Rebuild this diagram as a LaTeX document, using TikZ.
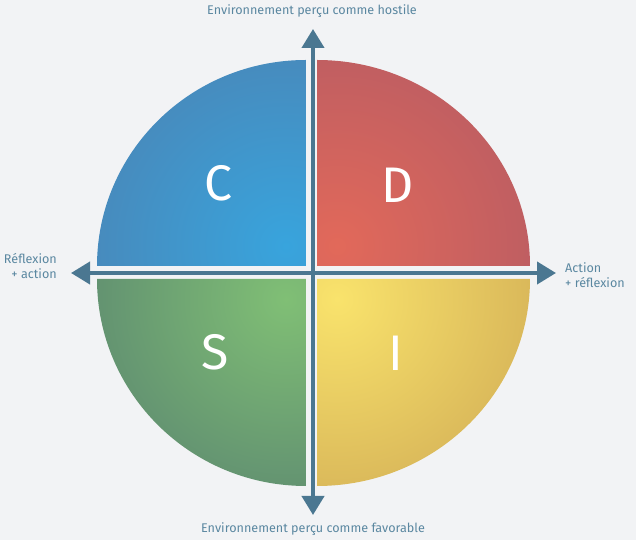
\documentclass[tikz,border=0pt]{standalone}
\usepackage{fontspec}
\setmainfont{Fira Sans}
\usetikzlibrary{arrows.meta}
\definecolor{bg}{HTML}{F2F3F5}
\definecolor{arrowc}{HTML}{4B7791}
\definecolor{labelc}{HTML}{5A87A0}
\definecolor{cin}{HTML}{38A4DD}
\definecolor{cout}{HTML}{4C83B3}
\definecolor{din}{HTML}{E2695A}
\definecolor{dout}{HTML}{B55B64}
\definecolor{sin}{HTML}{80BF75}
\definecolor{sout}{HTML}{5A8570}
\definecolor{iin}{HTML}{F9E36C}
\definecolor{iout}{HTML}{D1AC55}
\tikzset{
  axis/.style={draw=arrowc, line width=4pt, {Triangle[width=22pt,length=19pt]}-{Triangle[width=22pt,length=19pt]}},
  lbl/.style={text=labelc, font=\fontsize{12.6}{15.5}\selectfont, inner sep=0pt},
  letter/.style={text=white, font=\fontsize{50}{50}\selectfont, inner sep=0pt}
}
\begin{document}
\begin{tikzpicture}[x=1pt,y=1pt]
\fill[bg] (0,0) rectangle (636,540);
\useasboundingbox (0,0) rectangle (636,540);

% C quadrant
\begin{scope}
\clip (306,274) -- (97,274) arc[start angle=180,end angle=90,x radius=209,y radius=206] -- cycle;
\shade[inner color=cin, outer color=cout] (286,294) circle (250);
\end{scope}
% D quadrant
\begin{scope}
\clip (317,274) -- (530,274) arc[start angle=0,end angle=90,x radius=213,y radius=206] -- cycle;
\shade[inner color=din, outer color=dout] (337,294) circle (250);
\end{scope}
% S quadrant
\begin{scope}
\clip (306,261) -- (97,261) arc[start angle=180,end angle=270,x radius=209,y radius=207] -- cycle;
\shade[inner color=sin, outer color=sout] (286,241) circle (250);
\end{scope}
% I quadrant
\begin{scope}
\clip (317,261) -- (530,261) arc[start angle=0,end angle=-90,x radius=213,y radius=207] -- cycle;
\shade[inner color=iin, outer color=iout] (337,241) circle (250);
\end{scope}

\node[letter] (C) at (218,357) {C};
\node[letter] (D) at (398,355) {D};
\node[letter] (S) at (215,188) {S};
\node[letter] (I) at (396,187) {I};

\coordinate (top) at (313,511);
\coordinate (bot) at (313,25);
\coordinate (lft) at (71,267);
\coordinate (rgt) at (556,267);
\draw[axis] (bot) -- (top);
\draw[axis] (lft) -- (rgt);

\node[lbl] (tl) at (312,529) {Environnement perçu comme hostile};
\node[lbl] (bl) at (313,11) {Environnement perçu comme favorable};
\node[lbl, anchor=east, align=right] (ll) at (57,274) {Réflexion\\+ action};
\node[lbl, anchor=west, align=left] (rl) at (565,265) {Action\\+ réflexion};
\end{tikzpicture}
\end{document}
